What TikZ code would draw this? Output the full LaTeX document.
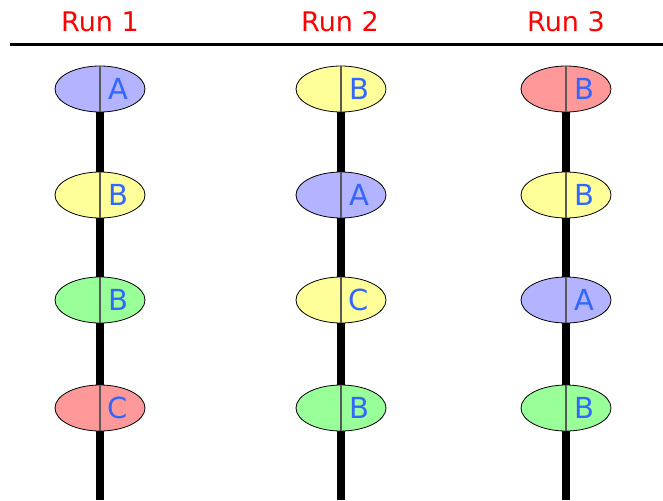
\documentclass[tikz,border=0pt]{standalone}
\usepackage{fontspec}
\setmainfont{DejaVu Sans}
\usetikzlibrary{shapes.geometric}
\definecolor{cA}{HTML}{B3B3FF}
\definecolor{cY}{HTML}{FFFF99}
\definecolor{cG}{HTML}{99FF99}
\definecolor{cR}{HTML}{FF9999}
\definecolor{lblue}{HTML}{3366FF}
\tikzset{
  title/.style={text=red, font=\fontsize{27}{30}\selectfont, inner sep=0pt},
  stem/.style={line width=8pt},
  bead/.style={ellipse, draw=black, line width=0.8pt, minimum width=90pt, minimum height=46pt, inner sep=0pt},
  mid/.style={draw=black!65, line width=1.5pt},
  lbl/.style={text=lblue, font=\fontsize{29}{30}\selectfont, inner sep=0pt}
}
\newcommand{\bead}[5]{% name, x, y, color, letter
  \node[bead, fill=#4] (#1) at (#2,#3) {};
  \draw[mid] (#1.north) -- (#1.south);
  \node[lbl] (#1l) at ([xshift=18pt]#1.center) {#5};
}
\begin{document}
\begin{tikzpicture}[x=1pt,y=-1pt]
\useasboundingbox (0,0) rectangle (663,500);
\node[title] (t1) at (100,22) {Run 1};
\node[title] (t2) at (340,22) {Run 2};
\node[title] (t3) at (566,22) {Run 3};
\coordinate (hl) at (10,45);
\coordinate (hr) at (663,45);
\draw[line width=3pt] (hl) -- (hr);
\coordinate (e1) at (100,500);
\coordinate (e2) at (341,500);
\coordinate (e3) at (566,500);
\coordinate (s1) at (100,100);
\coordinate (s2) at (341,100);
\coordinate (s3) at (566,100);
\draw[stem] (s1) -- (e1);
\draw[stem] (s2) -- (e2);
\draw[stem] (s3) -- (e3);
\bead{a1}{100}{89}{cA}{A}
\bead{a2}{100}{195}{cY}{B}
\bead{a3}{100}{300}{cG}{B}
\bead{a4}{100}{408}{cR}{C}
\bead{b1}{341}{89}{cY}{B}
\bead{b2}{341}{195}{cA}{A}
\bead{b3}{341}{300}{cY}{C}
\bead{b4}{341}{408}{cG}{B}
\bead{c1}{566}{89}{cR}{B}
\bead{c2}{566}{195}{cY}{B}
\bead{c3}{566}{300}{cA}{A}
\bead{c4}{566}{408}{cG}{B}
\end{tikzpicture}
\end{document}
